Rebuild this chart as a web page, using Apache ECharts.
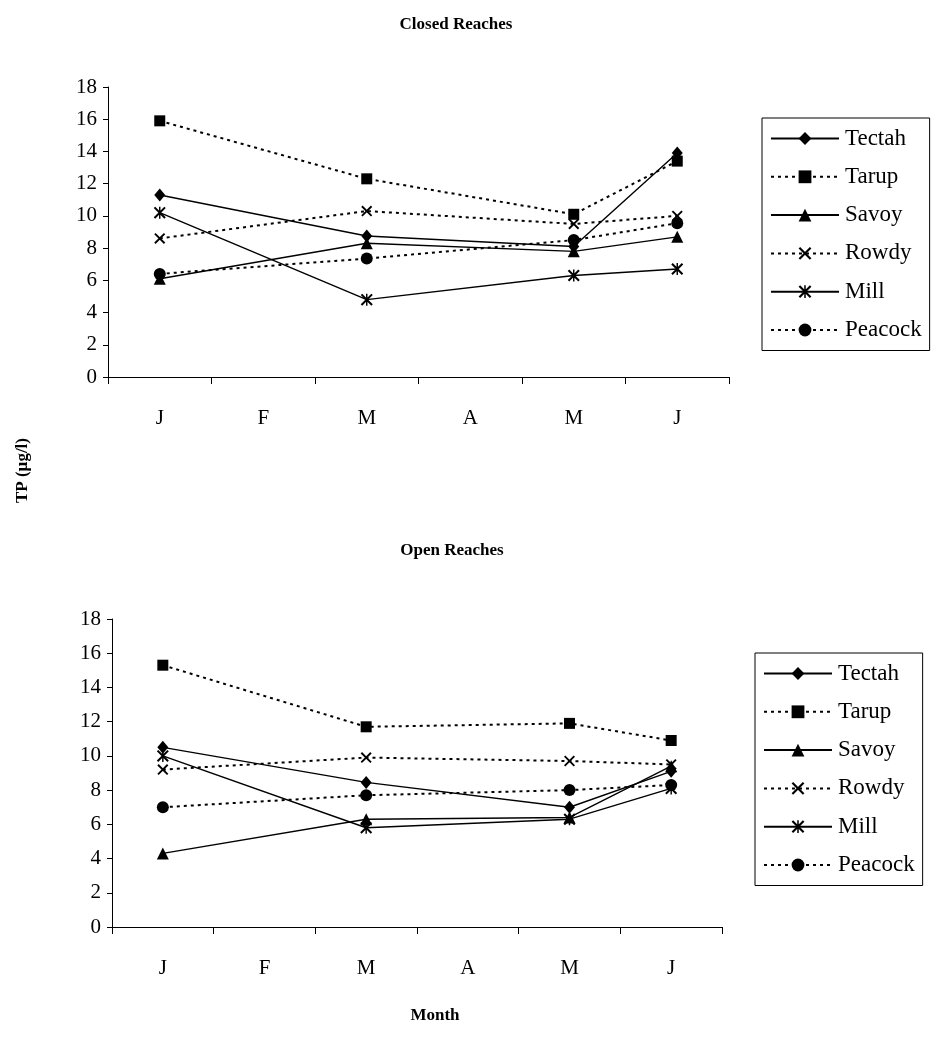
<!DOCTYPE html>
<html>
<head>
<meta charset="utf-8">
<title>TP by month – Closed and Open Reaches</title>
<script src="https://cdn.jsdelivr.net/npm/echarts@6/dist/echarts.min.js"></script>
<style>
  html, body { margin: 0; padding: 0; background: #fff; }
  #chart { width: 934px; height: 1042px; }
</style>
</head>
<body>
<div id="chart"></div>
<script>
// Sampling months (only J, M, M, J were sampled)
const months = ['J', 'F', 'M', 'A', 'M', 'J'];
const yTicks = [0, 2, 4, 6, 8, 10, 12, 14, 16, 18];
const reaches = ['Tectah', 'Tarup', 'Savoy', 'Rowdy', 'Mill', 'Peacock'];

// Closed reaches, TP (µg/l)
const closedTectah  = [11.3, null, 8.75, null, 8.1, 13.9];
const closedTarup   = [15.9, null, 12.3, null, 10.1, 13.4];
const closedSavoy   = [6.1,  null, 8.3,  null, 7.8, 8.7];
const closedRowdy   = [8.6,  null, 10.3, null, 9.5, 10.0];
const closedMill    = [10.2, null, 4.8,  null, 6.3, 6.7];
const closedPeacock = [6.4,  null, 7.35, null, 8.5, 9.55];

// Open reaches, TP (µg/l)
const openTectah  = [10.5, null, 8.45, null, 7.0,  9.1];
const openTarup   = [15.3, null, 11.7, null, 11.9, 10.9];
const openSavoy   = [4.3,  null, 6.3,  null, 6.4,  9.4];
const openRowdy   = [9.2,  null, 9.9,  null, 9.7,  9.5];
const openMill    = [10.0, null, 5.8,  null, 6.3,  8.1];
const openPeacock = [7.0,  null, 7.7,  null, 8.0,  8.3];

const closedData = [closedTectah, closedTarup, closedSavoy, closedRowdy, closedMill, closedPeacock];
const openData   = [openTectah, openTarup, openSavoy, openRowdy, openMill, openPeacock];

const FONT = '"Liberation Serif", "Times New Roman", serif';

// Marker shapes: cross (×) and asterisk built from thin filled bars
const CROSS = 'path://M0,1.2 L1.2,0 L10,8.8 L8.8,10 Z M8.8,0 L10,1.2 L1.2,10 L0,8.8 Z';
const STAR  = 'path://M0,1.2 L1.2,0 L10,8.8 L8.8,10 Z M8.8,0 L10,1.2 L1.2,10 L0,8.8 Z M4.4,0 L5.6,0 L5.6,10 L4.4,10 Z';

const styles = [
  { symbol: 'diamond',  size: [11, 13], dash: 'solid' },
  { symbol: 'rect',     size: 11,       dash: [3, 4] },
  { symbol: 'triangle', size: 12,       dash: 'solid' },
  { symbol: CROSS,      size: 11,       dash: [3, 4] },
  { symbol: STAR,       size: 12,       dash: 'solid' },
  { symbol: 'circle',   size: 12,       dash: [3, 4] }
];

function makeSeries(dataSets, idx) {
  return reaches.map((name, i) => ({
    name: name,
    type: 'line',
    xAxisIndex: idx,
    yAxisIndex: idx,
    data: dataSets[i],
    connectNulls: true,
    symbol: styles[i].symbol,
    symbolSize: styles[i].size,
    showAllSymbol: true,
    itemStyle: { color: '#000', borderWidth: 0 },
    lineStyle: {
      color: '#000',
      width: styles[i].dash === 'solid' ? 1.4 : 2,
      type: styles[i].dash
    },
    emphasis: { disabled: true },
    animation: false,
    z: 10 - i
  }));
}

function xAxis(gridIndex) {
  return {
    type: 'category',
    gridIndex: gridIndex,
    data: months,
    boundaryGap: true,
    axisLine: { show: true, lineStyle: { color: '#000', width: 1 } },
    axisTick: { show: true, interval: 0, length: 7, alignWithLabel: false, lineStyle: { color: '#000', width: 1 } },
    axisLabel: { color: '#000', fontFamily: FONT, fontSize: 21, margin: 31, interval: 0 },
    splitLine: { show: false }
  };
}

function yAxis(gridIndex) {
  return {
    type: 'value',
    gridIndex: gridIndex,
    min: 0, max: 18, interval: 2,
    axisLine: { show: true, lineStyle: { color: '#000', width: 1 } },
    axisTick: { show: true, length: 5, lineStyle: { color: '#000' } },
    axisLabel: {
      color: '#000', fontFamily: FONT, fontSize: 21, margin: 11,
      formatter: v => (yTicks.indexOf(v) >= 0 ? String(v) : '')
    },
    splitLine: { show: false }
  };
}

function legend(left, top) {
  return {
    data: reaches,
    orient: 'vertical',
    left: left,
    top: top,
    itemWidth: 68,
    itemHeight: 16,
    itemGap: 15.3,
    padding: [9, 8, 9, 8],
    borderColor: '#000',
    borderWidth: 1,
    backgroundColor: '#fff',
    selectedMode: false,
    textStyle: { color: '#000', fontFamily: FONT, fontSize: 23, lineHeight: 23, padding: [0, 0, 0, 1] }
  };
}

const chart = echarts.init(document.getElementById('chart'), null, { renderer: 'canvas' });

chart.setOption({
  backgroundColor: '#fff',
  animation: false,
  title: [
    { text: 'Closed Reaches', left: 451, top: 11, textAlign: 'center',
      textStyle: { fontFamily: FONT, fontWeight: 'bold', fontSize: 17, color: '#000' } },
    { text: 'Open Reaches', left: 447, top: 537, textAlign: 'center',
      textStyle: { fontFamily: FONT, fontWeight: 'bold', fontSize: 17, color: '#000' } },
    { text: 'Month', left: 430, top: 1002, textAlign: 'center',
      textStyle: { fontFamily: FONT, fontWeight: 'bold', fontSize: 17, color: '#000' } }
  ],
  graphic: [{
    type: 'text',
    left: 14,
    top: 438,
    rotation: Math.PI / 2,
    style: {
      text: 'TP (µg/l)',
      fill: '#000',
      font: 'bold 17px ' + FONT
    }
  }],
  grid: [
    { left: 108, right: 205, top: 87, bottom: 1042 - 377 },
    { left: 112, right: 212, top: 619, bottom: 1042 - 927 }
  ],
  xAxis: [xAxis(0), xAxis(1)],
  yAxis: [yAxis(0), yAxis(1)],
  legend: [legend(762, 118), legend(755, 653)],
  series: makeSeries(closedData, 0).concat(makeSeries(openData, 1))
});
</script>
</body>
</html>
